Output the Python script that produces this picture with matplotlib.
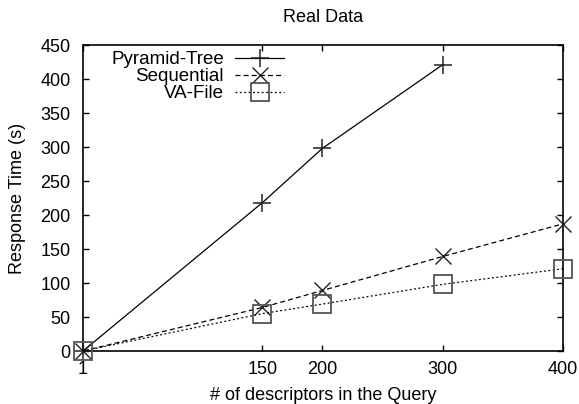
import matplotlib
matplotlib.use("Agg")
import matplotlib.pyplot as plt

plt.rcParams['font.family'] = ['Liberation Sans', 'DejaVu Sans']

queries = [1, 150, 200, 300, 400]
pyramid_x = [1, 150, 200, 300]
pyramid = [0, 218, 298, 421]
sequential = [0, 64, 89, 139, 187]
vafile = [0, 55, 69, 98, 121]
xticks = [1, 150, 200, 300, 400]
yticks = [0, 50, 100, 150, 200, 250, 300, 350, 400, 450]

W, H = 579, 404
fig = plt.figure(figsize=(W / 100, H / 100), dpi=100)
ax = fig.add_axes([83 / W, 1 - 351 / H, (563 - 83) / W, (351 - 45) / H])

ax.plot(pyramid_x, pyramid, color='black', lw=0.9, linestyle='-',
        marker='+', markersize=12.5, markeredgewidth=1.1, markeredgecolor='#222222',
        label='Pyramid-Tree', clip_on=False, zorder=3)
ax.plot(queries, sequential, color='black', lw=0.9, linestyle=(0, (4, 2.5)),
        marker='x', markersize=12, markeredgewidth=1.0, markeredgecolor='#222222',
        label='Sequential', clip_on=False, zorder=3)
ax.plot(queries, vafile, color='black', lw=0.9, linestyle=(0, (1.5, 2)),
        marker='s', markersize=12.5, markerfacecolor='none', markeredgewidth=1.3,
        markeredgecolor='#555555', label='VA-File', clip_on=False, zorder=3)

ax.set_xlim(1, 400)
ax.set_ylim(0, 450)
ax.set_xticks(xticks)
ax.set_xticklabels([str(t) for t in xticks])
ax.set_yticks(yticks)
ax.set_yticklabels([str(t) for t in yticks])
ax.tick_params(axis='both', direction='in', length=4, width=1.0,
               top=True, right=True, labelsize=13, colors='black')
ax.tick_params(axis='x', pad=7)
ax.tick_params(axis='y', pad=9)
for s in ax.spines.values():
    s.set_linewidth(1.2)
    s.set_color('black')

leg = ax.legend(loc='upper right', bbox_to_anchor=(284 / W, 1 - 51 / H),
                bbox_transform=fig.transFigure, frameon=False, markerfirst=False,
                fontsize=13.5, handlelength=2.6, handletextpad=0.6,
                labelspacing=0.0, borderpad=0, borderaxespad=0)

fig.text(323 / W, 1 - 18 / H, 'Real Data', ha='center', va='center', fontsize=13)
fig.text(323 / W, 1 - 395 / H, '# of descriptors in the Query', ha='center',
         va='center', fontsize=13)
fig.text(18 / W, 1 - 198 / H, 'Response Time (s)', ha='center', va='center',
         rotation=90, fontsize=13)

fig.savefig('out.png', dpi=100)
